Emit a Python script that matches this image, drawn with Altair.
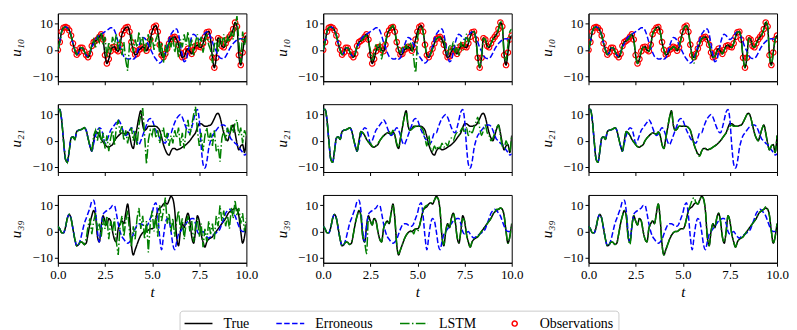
import altair as alt
import numpy as np
import pandas as pd

# time axis of the samples (0.0 ... 10.0)
T = np.round(np.linspace(0.0, 10.0, 101), 2)

SERIES = ["True", "Erroneous", "LSTM", "Observations"]
COLORS = ["#000000", "#0000ff", "#008000", "#ff0000"]
DASHES = [[1, 0], [5.5, 2.4], [9.6, 2.4, 1.5, 2.4], [1, 0]]
LINE_SYMBOL = "M-2,0H2"
CIRCLE_SYMBOL = "M-0.36,0A0.36,0.36 0 1,1 0.36,0A0.36,0.36 0 1,1 -0.36,0Z"
SHAPES = [LINE_SYMBOL, LINE_SYMBOL, LINE_SYMBOL, CIRCLE_SYMBOL]
ROW_TITLES = ["u₁₀", "u₂₁", "u₃₉"]
X_TICKS = [0, 2.5, 5, 7.5, 10]
Y_TICKS = [-10, 0, 10]

# ---------------- u10 ----------------
true_u10 = [0, 3, 7, 8.5, 8.8, 8.5, 7.5, 5.5, 2.5, 0,
            -1.8, -1, 0.8, 0.8, -0.5, -2, -2.8, -1.5, 1.5, 3,
            3.5, 4, 5, 6, 4, -2, -5.2, -3.5, -0.5, 1,
            1.2, 0, -0.5, 2, 6, 7.5, 8.5, 8.8, 7, 3,
            0, -1.8, -1.5, 0, 0.5, 1.2, 0.8, -0.3, 1, 4,
            7, 8.8, 9.3, 7, 2, -2, -2.8, -1.5, 0.5, 2.5,
            4.2, 4.8, 5, 4, 2, -1, -2.8, -2.5, -0.5, 0.5,
            -0.5, -1.5, 0, 1.5, 1.8, 1.2, 1, 2.5, 5, 6.8,
            7, 4, -3, -6.8, -3, 4.5, 4, 1.5, 1, 2.5,
            4, 5, 6, 8, 10.5, 9, -2, -5.8, -1, 4,
            5.5]
obs_u10 = true_u10
err_u10 = [0, 3, 7, 8.5, 8.8, 8.5, 7.5, 5.5, 2.5, 0,
           -1.8, -1, 0.8, 0.8, -0.5, -2, -2.5, -1, 1, 2.5,
           4, 5, 5.5, 6, 6.5, 7, 7.5, 8, 8.5, 8.5,
           7.5, 5.5, 3, 1, -1, -2.5, -3, -3.5, -3.5, -3,
           -3.5, -3, -1, 1.5, 3.5, 4.8, 4.5, 3.5, 2, 0.5,
           -1, -2.5, -3.5, -4.5, -5, -4.5, -3, -1, 1.5, 4,
           6, 7, 8, 8, 6, 2, -2, -4.5, -4, -1,
           2.5, 5, 6, 5.5, 4.5, 4, 4.5, 5.5, 6.5, 7,
           6.5, 5, 3, 1, -0.5, -2, -3, -3.3, -3.2, -2.5,
           -1.2, 0.3, 1.5, 2.5, 3.2, 3.8, 4.2, 4.3, 4.2, 4,
           3.8]
lstm1_u10 = [0, 3, 7, 8.5, 8.8, 8.5, 7.5, 5.5, 2.5, 0,
             -1.8, -1, 0.8, 0.8, -0.5, -2, -2.8, -1, 2, 4,
             1, 5, 3, 6.5, 2, 5, -3, 3, -1, 5,
             2, 6, 0, 4, -2, 3, -4, -8, 2, 6,
             -1, 4, 1, 7, 2, 5, -1, 3, 6, 1,
             5, 0, 4, 6, -2, 3, -5, 2, -2, 4,
             1, 5, -1, 3, -3, 4, 1, 6, 2, 7,
             0, 4, -2, 3, 6, 1, 5, -1, 3, 6,
             2, 0, -5, 2, 4, -1, 5, 2, 6, 1,
             5, 3, 7, 4, 9, 13, 3, -5, 7, 2,
             5]
lstm2_u10 = [0, 3, 7, 8.5, 8.8, 8.5, 7.5, 5.5, 2.5, 0,
             -1.8, -1, 0.8, 0.8, -0.5, -2, -2.8, -1.5, 1.5, 3,
             3.5, 4, 5, 5.5, 3, 0, -4, -1, 2, 0,
             3, -3.5, 1, 3, 6, 7.5, 8.5, 9.5, 7, 3,
             0, -1, 1, -0.5, 2, 0.5, 3, 1, -3, -8.7,
             4, 8, 9, 7, 2, -2, -2.8, -1.5, 0.5, 2.5,
             4.2, 4.8, 5, 3, 4, 0, -2, 2, 0, 3,
             -1, 2, -2, 3, 0, 2, 6, 3, 5, 6.8,
             7, 4, -3, -6.5, -3, 4.5, 4, 1.5, 1, 2.5,
             4, 5, 6, 8, 11, 9, -2, -4, 2, 7,
             8]
lstm3_u10 = [0, 3, 7, 8.5, 8.8, 8.5, 7.5, 5.5, 2.5, 0,
             -1.8, -1, 0.8, 0.8, -0.5, -2, -2.8, -1.5, 1.5, 3,
             3.5, 4, 5, 6, 4, -2, -5.2, -3.5, -0.5, 1,
             1.2, 0, -0.5, 2, 6, 7.5, 8.5, 8.8, 7, 3,
             0, -1.8, -1.5, 0, 0.5, 1.2, 0.8, -0.3, 1, 4,
             7, 8.8, 9.3, 7, 2, -3, -5, -1.5, 0.5, 2.5,
             4.2, 4.8, 5, 4, 2, -1, -2.8, -2.5, -0.5, 0.5,
             -0.5, -1.5, 0, 1.5, 1.8, 1.2, 1, 2.5, 5, 6.8,
             7, 4, -3, -6.8, -3, 4.5, 4, 1.5, 1, 2.5,
             4, 5, 6, 8, 11, 9, -2, -5.8, -1, 4,
             5.5]

# ---------------- u21 ----------------
true_u21 = [12, 12, 8, 0, -7, -8.3, -4, 1, 1.5, 0.5,
            3.5, 4, 4.2, 4.5, 5, 4, 1, -2, -4, 0,
            3.5, 3, 2, 0.5, -0.5, -1.5, -2.3, -2.5, -2, -1.5,
            0, 1, 1.8, 2.5, 3, 2.8, 2.5, 3.3, 2, -1.5,
            -3, 1, 5, 9, 11.5, 6, 4, 4.5, 5.5, 5.5,
            5.5, 5.5, 5.5, 5, 4, 1.5, -1.5, -3.5, -5, -5.5,
            -4, -3, -3, -3.5, -3.3, -3, -2.5, -2, -1.5, -0.8,
            0, 1, 2, 3, 5, 6.5, 6.5, 6, 5.5, 5.5,
            5.8, 6, 7, 8.5, 10, 10.5, 9, 6, 3, 1,
            0, 2, 4.5, 6, 3, -1, -3.5, -2, -1.5, -4.5,
            2]
err_u21 = [12, 12, 8, 0, -7, -8.3, -4, 1, 1.5, 0.5,
           3.5, 4, 4.2, 4.5, 5, 4, 1, -2, -4, -1,
           2, 4, 5, 4.5, 2, -1, 0, 2, 4, 5,
           6, 7, 8, 7, 5, 3, 2, 2.5, 4, 5,
           4, 2, -0.5, -1.5, 0, 2, 4, 6, 8, 8.5,
           8, 6, 4, 2.5, 1, 0, -0.5, -1, 1, 3,
           3, 5, 7, 8.5, 9.5, 10, 9, 7, 5, 3.5,
           3, 5, 8, 11, 12, 8, -2, -9, -10.5, -8,
           -3, 0, 2, 3, 4, 5, 5.5, 6, 6, 5.5,
           4, 2, 0.5, 0, -1, -1.5, -2.5, -3.5, -4.5, -5.5,
           -5]
lstm1_u21 = [12, 12, 8, 0, -7, -8.3, -4, 1, 1.5, 0.5,
             3.5, 4, 4.2, 4.5, 5, 4, 1, -2, -4, 2,
             4, 0, 5, -1, 3, -3, 2, -4, 1, 4,
             -2, 5, 8, 3, 6, 0, 4, -1, 3, 5,
             0, 4, -2, 6, 10, 12.5, 2, -9, 0, 4,
             2, 6, 1, 4, -1, 3, 5, 0, 3, -2,
             2, -1, 4, 1, 5, -2, 3, -3, 4, 8,
             2, 6, 10, 13, 4, -2, 3, -4, 2, 5,
             0, 3, -2, 4, -4, -2, -8, 1, 4, 0,
             5, 2, 6, 3, 7, 8, 2, 5, -1, 4,
             2]
lstm2_u21 = [12, 12, 8, 0, -7, -8.3, -4, 1, 1.5, 0.5,
             3.5, 4, 4.2, 4.5, 5, 4, 1, -2, -4, 0,
             3.5, 3, 2, 0.5, -0.5, -1, -2, -2.5, -2, -1,
             0, 1, 2, 2.5, 3, 3.5, 2.5, 4, 2, -1,
             -2.5, 1, 5, 9, 11, 6, 4, 4.5, 5, 5.5,
             5, 6, 5, 4, 1, -2, 2, -3, -4, -2,
             -3.5, -2, -3, -1, -2.5, -1, -2, 0, 1, 0,
             2, 3, 2, 4, 5, 3, 5, 2, 4, 3,
             5, 7, 9, 5, 2, 4, 6, 3, 2, 0,
             1, 3, 5, 6, 2, -2, -3, 0, -2, -4,
             2]
lstm3_u21 = [12, 12, 8, 0, -7, -8.3, -4, 1, 1.5, 0.5,
             3.5, 4, 4.2, 4.5, 5, 4, 1, -2, -4, 0,
             3.5, 3, 2, 0.5, -0.5, -1.5, -2.3, -2.5, -2, -1.5,
             0, 1, 1.8, 2.5, 3, 2.8, 2.5, 3.3, 2, -1.5,
             -3, 1, 5, 9, 11.5, 6, 4, 4.5, 5.5, 5.5,
             5.5, 5.5, 5.5, 5, 4, 1.5, -1.5, -3.5, -5.5, -6,
             -4, -3, -3, -3.5, -3.3, -3, -2.5, -2, -1.5, -0.8,
             0, 1, 2, 3, 4.5, 5.5, 6, 5.5, 5.5, 5.5,
             5.8, 6, 7, 8.5, 10, 10.5, 9, 6, 3, 1,
             0, 2, 4.5, 6, 3, -1, -3.5, -2, -1.5, -4.5,
             2]

# ---------------- u39 ----------------
true_u39 = [2, 1, -0.5, -0.5, 1.5, 5, 6.5, 5, 1, -3,
            -5.5, -5, -4, -4.2, -5, -4.5, -1, 3, 6, 8,
            6, -2, -4, 2, 6, 4, 2.5, 5, 4, 0,
            -3, -4, 1, 3, 4, 3, 7, 10.5, 5, -5,
            -9, -7, -5, -3, -1.5, -0.5, 0, 0, 0.5, 1,
            1, 2, 5, 8, 9, 9.5, 10.5, 11, 10.5, 12,
            13.5, 12.5, 8, -2, -5.5, 0, 3, 1.5, 5, 7,
            4, -2, -4.5, 0, 6, 4, -1, -4, -6, -4,
            -3, -2.5, -2, -1, 0, 1, 2, 3, 4, 5,
            6.5, 7.5, 8, 8.5, 9, 8.5, 6, 0, -4.5, -2,
            3]
err_u39 = [2, 1, -0.5, -0.5, 1.5, 5, 6.5, 5, 1, -3,
           -5.5, -5, -3, 0, 3, 5, 7, 9, 11.5, 12,
           8, 0, -4, 2, 6.5, 7.5, 8, 8.5, 9, 10,
           10, 7, 3, 0, -2, -3, -4, -4.5, -4, -3,
           -1, 1, 2.5, 3, 3, 2.5, 2, 2, 3, 5,
           7, 10, 11, 6, -2, -7, -2, 3, 5, 4,
           0, -5, -7, -4, -1, 0, 1, 2, 3, 4,
           4.5, 5, 5, 3, 0, -1, -0.5, 0, -1, -2,
           -2.5, -2, -1.5, -1, -0.5, 0, 1, 3, 5, 7,
           8, 8.5, 8, 7, 6, 4, 2, 0.5, 0, 0,
           0.5]
lstm1_u39 = [2, 1, -0.5, -0.5, 1.5, 5, 6.5, 5, 1, -3,
             -5.5, -5, -4, -4.2, -5, -3, 2, 5, -1, 4,
             7, 0, 3, -2, 5, 1, 6, -3, 4, 0,
             5, -4, -9, 2, 6, -2, 4, 8, 0, -6,
             2, -3, 5, 9, 1, 6, -3, 4, -8, 3,
             8, 0, 6, -2, 10, 4, 8, 13, 3, 7,
             0, 5, -2, 4, 8, 1, 5, -3, 3, 6,
             0, 4, -4, 2, 5, -2, 3, -6, 1, -4,
             4, -1, 3, -3, 6, 2, 10, 4, 8, 2,
             6, 1, 9, 5, 12, 6, 9, 3, 7, 0,
             5]
lstm2_u39 = [2, 1, -0.5, -0.5, 1.5, 5, 6.5, 5, 1, -3,
             -5.5, -5, -4, -4.2, -5, -4.5, -1, 3, 6, 8,
             6, -2, -4, -8.5, 5, 4, 2.5, 5, 4, 0,
             -3, -4, 1, 3, 4, 3, 7, 10, 5, -5,
             -8.5, -7, -5, -3, -1.5, -0.5, 0, 0.5, -1, 1,
             0, 2, 5, 8, 9.5, 10, 10.5, 11, 11, 12,
             13, 12.5, 8, -2, -5, 0, 3, 1.5, 5, 7,
             4, -2, -4, 0, 5, 4, -1, -4, -6, -4,
             -3, -2, -2, -1, 0, 1, 2, 3, 4, 5,
             6.5, 7.5, 8.5, 8.5, 9, 8.5, 6, 0, -4.5, -2,
             3]
lstm3_u39 = [2, 1, -0.5, -0.5, 1.5, 5, 6.5, 5, 1, -3,
             -5.5, -5, -4, -4.2, -5, -4.5, -1, 3, 6, 8,
             6, -2, -5, 2, 6, 4, 2.5, 5, 4, 0,
             -3, -4, 1, 3, 4, 3, 7, 10.5, 5, -5,
             -9, -7, -5, -3, -1.5, -0.5, 0, 0, 0.5, 1,
             1, 2, 5, 8, 10, 12, 13, 11, 10.5, 12,
             13.5, 12.5, 8, -2, -5.5, 0, 3, 1.5, 5, 7,
             4, -2, -4, 0, 6, 4, -1, -4, -6, -4,
             -3, -2.5, -2, -1, 0, 1, 2, 3, 4, 5,
             6.5, 7.5, 8, 8.5, 9.5, 8.5, 6, 0, -4.5, -2,
             3]

TRUE = [true_u10, true_u21, true_u39]
ERR = [err_u10, err_u21, err_u39]
LSTM = [[lstm1_u10, lstm2_u10, lstm3_u10],
        [lstm1_u21, lstm2_u21, lstm3_u21],
        [lstm1_u39, lstm2_u39, lstm3_u39]]

for arr in [obs_u10] + TRUE + ERR + [a for row in LSTM for a in row]:
    assert len(arr) == len(T), len(arr)

LEGEND = alt.Legend(
    title=None, orient="none", legendX=122, legendY=298, direction="horizontal",
    symbolSize=196, symbolStrokeWidth=1.5, symbolFillColor="transparent",
    symbolOffset=6, labelOffset=17, columnPadding=24,
    labelFont="Liberation Serif", labelFontSize=14, labelColor="black",
    strokeColor="#cccccc", fillColor="white", cornerRadius=3, padding=5,
)


def frame(values, name):
    return pd.DataFrame({"t": T, "v": values, "series": name})


def panel(r, c):
    with_legend = (r == 0 and c == 0)
    x_axis = alt.Axis(values=X_TICKS, format=".1f", labels=(r == 2), labelFlush=False)
    x = alt.X("t:Q", scale=alt.Scale(domain=[0, 10], nice=False, zero=False),
              axis=x_axis, title=("t" if r == 2 else None))
    y = alt.Y("v:Q", scale=alt.Scale(domain=[-12, 14], nice=False, zero=False),
              axis=alt.Axis(values=Y_TICKS), title=ROW_TITLES[r])
    leg = LEGEND if with_legend else None
    color = alt.Color("series:N", scale=alt.Scale(domain=SERIES, range=COLORS), legend=leg)
    dash = alt.StrokeDash("series:N", scale=alt.Scale(domain=SERIES, range=DASHES), legend=leg)
    shape = alt.Shape("series:N", scale=alt.Scale(domain=SERIES, range=SHAPES), legend=leg)
    layers = []
    if r == 0:
        layers.append(
            alt.Chart(frame(obs_u10, "Observations"))
            .mark_point(filled=False, size=225, strokeWidth=1.2, opacity=1, clip=True)
            .encode(x=x, y=y, color=color, shape=shape, strokeDash=dash)
        )
    layers.append(
        alt.Chart(frame(TRUE[r], "True"))
        .mark_line(strokeWidth=1.5, interpolate="monotone", clip=True)
        .encode(x=x, y=y, color=color, strokeDash=dash)
    )
    layers.append(
        alt.Chart(frame(ERR[r], "Erroneous"))
        .mark_line(strokeWidth=1.5, interpolate="monotone", clip=True)
        .encode(x=x, y=y, color=color, strokeDash=dash)
    )
    layers.append(
        alt.Chart(frame(LSTM[r][c], "LSTM"))
        .mark_line(strokeWidth=1.5, interpolate=("linear" if c == 0 else "monotone"), clip=True)
        .encode(x=x, y=y, color=color, strokeDash=dash)
    )
    return alt.layer(*layers).properties(width=189, height=68)


panels = [panel(r, c) for r in range(3) for c in range(3)]

chart = (
    alt.concat(*panels, columns=3, spacing={"row": 23, "column": 77}, bounds="flush")
    .properties(padding={"left": 0, "top": 4, "right": 0, "bottom": 0}, background="white")
    .configure_view(stroke="black", strokeWidth=1, fill="white")
    .configure_axis(
        grid=False, domainColor="black", domainWidth=1, tickColor="black",
        tickSize=3.5, tickWidth=1, labelFont="Liberation Serif", labelFontSize=13,
        labelColor="black", labelPadding=2, titleFont="Liberation Serif",
        titleFontSize=15, titleFontWeight="normal", titleFontStyle="italic",
        titleColor="black",
    )
    .configure_axisY(titlePadding=7, minExtent=27, maxExtent=27)
    .configure_axisX(titlePadding=3)
)

chart.save("out.html", embed_options={"renderer": "svg", "actions": False})
